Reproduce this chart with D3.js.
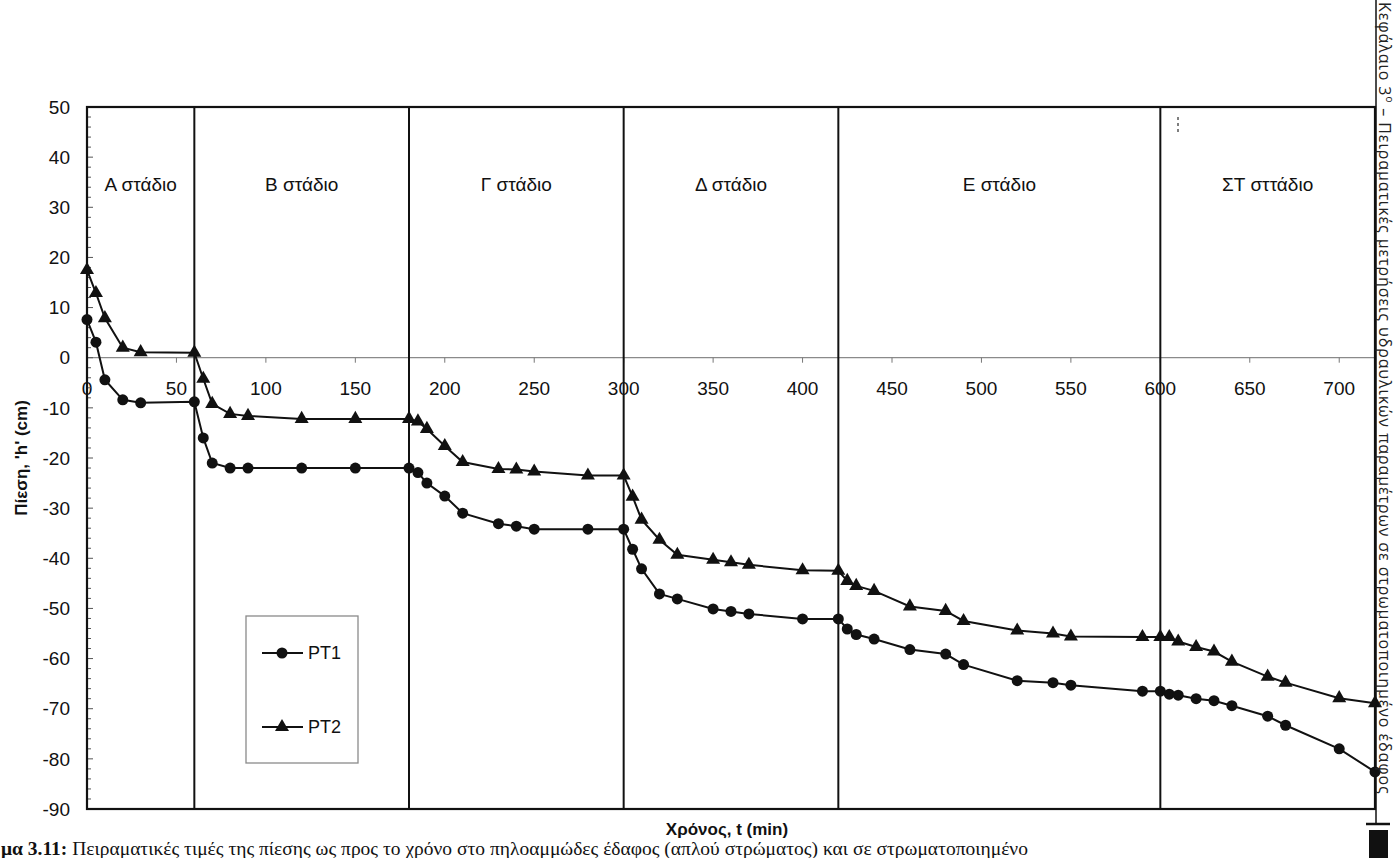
<!DOCTYPE html>
<html lang="el">
<head>
  <meta charset="UTF-8">
  <title>Πίεση ως προς τον χρόνο - PT1, PT2</title>
  <script src="https://d3js.org/d3.v7.min.js"></script>
  <style>
    html, body { margin: 0; padding: 0; background: #fff; }
    svg { display: block; }
    .tick-label { font-family: "Liberation Sans", Arial, sans-serif; font-size: 19px; fill: #111; }
    .stage-label { font-family: "Liberation Sans", Arial, sans-serif; font-size: 19px; fill: #111; text-anchor: middle; }
    .axis-title { font-family: "Liberation Sans", Arial, sans-serif; font-size: 17px; font-weight: bold; fill: #111; }
    .legend-text { font-family: "Liberation Sans", Arial, sans-serif; font-size: 18px; fill: #111; }
    .caption { font-family: "Liberation Serif", "Times New Roman", serif; font-size: 19.5px; fill: #111; }
    .page-head { font-family: "Open Sans", "DejaVu Sans", sans-serif; font-size: 16px; letter-spacing: 0.9px; fill: #222; }
  </style>
</head>
<body>
<svg width="1398" height="858"></svg>
<script>
  // χρόνος (min) - κοινός για τις δύο σειρές
  const times = [0, 5, 10, 20, 30, 60, 65, 70, 80, 90, 120, 150, 180, 185, 190, 200, 210,
    230, 240, 250, 280, 300, 305, 310, 320, 330, 350, 360, 370, 400, 420, 425, 430, 440,
    460, 480, 490, 520, 540, 550, 590, 600, 605, 610, 620, 630, 640, 660, 670, 700, 720];

  const pt1 = [7.6, 3.1, -4.4, -8.4, -9.0, -8.8, -16.0, -21.0, -22.0, -22.0, -22.0, -22.0, -22.0,
    -22.9, -25.0, -27.6, -31.0, -33.1, -33.6, -34.2, -34.2, -34.2, -38.2, -42.1, -47.1, -48.1,
    -50.1, -50.6, -51.1, -52.1, -52.1, -54.1, -55.2, -56.1, -58.2, -59.1, -61.2, -64.4, -64.8,
    -65.3, -66.5, -66.5, -67.1, -67.3, -68.0, -68.4, -69.4, -71.5, -73.3, -78.0, -82.6];

  const pt2 = [17.5, 12.9, 7.9, 2.0, 1.1, 1.0, -4.2, -9.2, -11.2, -11.6, -12.2, -12.2, -12.2,
    -12.7, -14.2, -17.6, -20.8, -22.2, -22.3, -22.7, -23.5, -23.5, -27.7, -32.3, -36.3, -39.3,
    -40.3, -40.8, -41.3, -42.4, -42.5, -44.5, -45.5, -46.5, -49.6, -50.5, -52.5, -54.4, -55.0,
    -55.6, -55.7, -55.7, -55.7, -56.6, -57.7, -58.6, -60.6, -63.6, -64.8, -67.9, -68.9];

  // όρια σταδίων και ετικέτες
  const stageBounds = [60, 180, 300, 420, 600];
  const stageNames = ["Α στάδιο", "Β στάδιο", "Γ στάδιο", "Δ στάδιο", "Ε στάδιο", "ΣΤ σττάδιο"];
  const stageEdges = [0, 60, 180, 300, 420, 600, 720];

  const xTicks = [0, 50, 100, 150, 200, 250, 300, 350, 400, 450, 500, 550, 600, 650, 700];
  const yTicks = [50, 40, 30, 20, 10, 0, -10, -20, -30, -40, -50, -60, -70, -80, -90];

  const svg = d3.select("svg");

  const x = d3.scaleLinear().domain([0, 720]).range([87, 1375]);
  const y = d3.scaleLinear().domain([-90, 50]).range([809, 107]);

  // γραμμή y = 0 (άξονας χρόνου)
  svg.append("line")
    .attr("x1", x(0)).attr("x2", 1376)
    .attr("y1", y(0)).attr("y2", y(0))
    .attr("stroke", "#8a8a8a").attr("stroke-width", 1.3);

  svg.append("g").selectAll("line").data(xTicks.slice(1)).join("line")
    .attr("x1", d => x(d)).attr("x2", d => x(d))
    .attr("y1", y(0)).attr("y2", y(0) + 5)
    .attr("stroke", "#777").attr("stroke-width", 1);

  svg.append("g").selectAll("text").data(xTicks).join("text")
    .attr("class", "tick-label")
    .attr("x", d => x(d))
    .attr("y", y(0) + 37)
    .attr("text-anchor", "middle")
    .text(d => d);

  // άξονας y : ετικέτες και μικρές υποδιαιρέσεις
  svg.append("g").selectAll("text").data(yTicks).join("text")
    .attr("class", "tick-label")
    .attr("x", 70)
    .attr("y", d => y(d))
    .attr("dy", "0.35em")
    .attr("text-anchor", "end")
    .text(d => d);

  svg.append("g").selectAll("line").data(d3.range(-90, 51, 2)).join("line")
    .attr("x1", x(0)).attr("x2", d => x(0) + (d % 10 === 0 ? 6 : 4))
    .attr("y1", d => y(d)).attr("y2", d => y(d))
    .attr("stroke", "#555").attr("stroke-width", 1);

  // όρια σταδίων
  svg.append("g").selectAll("line").data(stageBounds).join("line")
    .attr("x1", d => x(d)).attr("x2", d => x(d))
    .attr("y1", y(50)).attr("y2", y(-90))
    .attr("stroke", "#111").attr("stroke-width", 2);

  // πλαίσιο γραφήματος
  svg.append("rect")
    .attr("x", x(0)).attr("y", y(50))
    .attr("width", x(720) - x(0)).attr("height", y(-90) - y(50))
    .attr("fill", "none").attr("stroke", "#111").attr("stroke-width", 2.2);

  svg.append("g").selectAll("text").data(stageNames).join("text")
    .attr("class", "stage-label")
    .attr("x", (d, i) => x((stageEdges[i] + stageEdges[i + 1]) / 2))
    .attr("y", y(33.2))
    .text(d => d);

  // σειρές
  const line = d3.line().x(d => x(d[0])).y(d => y(d[1]));
  const s1 = times.map((t, i) => [t, pt1[i]]);
  const s2 = times.map((t, i) => [t, pt2[i]]);

  const circle = d3.symbol().type(d3.symbolCircle).size(95);
  const tri = d3.symbol().type(d3.symbolTriangle).size(85);

  [[s1, circle], [s2, tri]].forEach(([s, sym]) => {
    svg.append("path")
      .attr("d", line(s))
      .attr("fill", "none").attr("stroke", "#111").attr("stroke-width", 2);
    svg.append("g").selectAll("path").data(s).join("path")
      .attr("d", sym())
      .attr("transform", d => `translate(${x(d[0])},${y(d[1])})`)
      .attr("fill", "#111");
  });

  // υπόμνημα
  const lg = svg.append("g");
  lg.append("rect")
    .attr("x", 246).attr("y", 616).attr("width", 112).attr("height", 147)
    .attr("fill", "#fff").attr("stroke", "#8a8a8a").attr("stroke-width", 1.3);
  [["PT1", circle, 653], ["PT2", tri, 727]].forEach(([name, sym, ly]) => {
    lg.append("line").attr("x1", 262).attr("x2", 303).attr("y1", ly).attr("y2", ly)
      .attr("stroke", "#111").attr("stroke-width", 2);
    lg.append("path").attr("d", sym()).attr("transform", `translate(282,${ly})`).attr("fill", "#111");
    lg.append("text").attr("class", "legend-text")
      .attr("x", 308).attr("y", ly).attr("dy", "0.36em").text(name);
  });

  // τίτλοι αξόνων
  svg.append("text").attr("class", "axis-title")
    .attr("transform", `translate(27,${y(-20)}) rotate(-90)`)
    .attr("text-anchor", "middle")
    .text("Πίεση, 'h' (cm)");

  svg.append("text").attr("class", "axis-title")
    .attr("x", 727).attr("y", 835)
    .attr("text-anchor", "middle")
    .text("Χρόνος, t (min)");

  // λεζάντα σχήματος
  const cap = svg.append("text").attr("class", "caption").attr("x", 1).attr("y", 855);
  cap.append("tspan").attr("font-weight", "bold").text("μα 3.11: ");
  cap.append("tspan").text("Πειραματικές τιμές της πίεσης ως προς το χρόνο στο πηλοαμμώδες έδαφος (απλού στρώματος) και σε στρωματοποιημένο");

  // κεφαλίδα σελίδας, δεξιά
  svg.append("line")
    .attr("x1", 1376).attr("x2", 1376).attr("y1", 0).attr("y2", 824)
    .attr("stroke", "#111").attr("stroke-width", 1.5);
  svg.append("line")
    .attr("x1", 1366).attr("x2", 1390).attr("y1", 824).attr("y2", 824)
    .attr("stroke", "#111").attr("stroke-width", 2.5);
  svg.append("rect")
    .attr("x", 1369).attr("y", 830).attr("width", 19).attr("height", 28)
    .attr("fill", "#111");

  const head = svg.append("text").attr("class", "page-head")
    .attr("transform", "translate(1379,2) rotate(90)");
  head.append("tspan").text("Κεφάλαιο 3");
  head.append("tspan").attr("font-size", "10px").attr("baseline-shift", "super").text("ο");
  head.append("tspan").text(" – Πειραματικές μετρήσεις υδραυλικών παραμέτρων σε στρωματοποιημένο έδαφος");

  // μικρό σημάδι σάρωσης
  svg.append("line")
    .attr("x1", 1178).attr("x2", 1178).attr("y1", 117).attr("y2", 132)
    .attr("stroke", "#555").attr("stroke-width", 1.5).attr("stroke-dasharray", "3,3");
</script>
</body>
</html>
